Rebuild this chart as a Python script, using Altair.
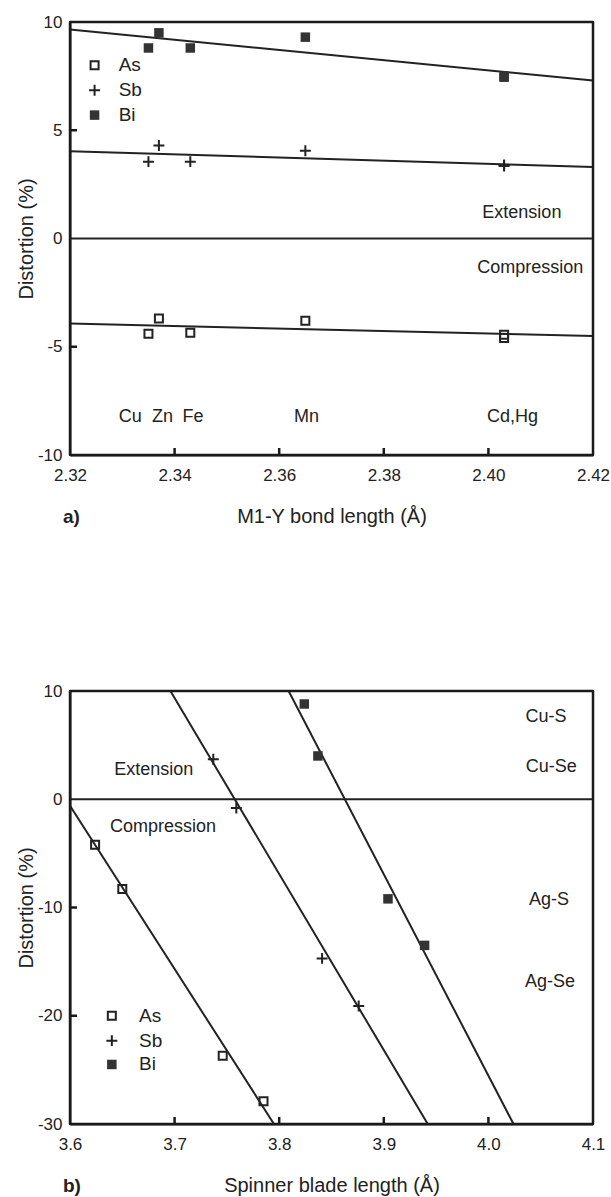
import altair as alt
import pandas as pd

# ---------------- Panel a data ----------------
bond_x = [2.335, 2.337, 2.343, 2.365, 2.403, 2.403]
as_a = [-4.4, -3.7, -4.35, -3.8, -4.45, -4.6]
sb_a = [3.55, 4.3, 3.55, 4.05, 3.35, 3.4]
bi_a = [8.8, 9.5, 8.8, 9.3, 7.45, 7.5]
fit_a_x = [2.32, 2.42]
fit_as_a = [-3.93, -4.5]
fit_sb_a = [4.03, 3.3]
fit_bi_a = [9.65, 7.3]
metal_labels = ["Cu", "Zn", "Fe", "Mn", "Cd,Hg"]
metal_label_x = [2.3315, 2.3377, 2.3435, 2.3652, 2.4046]
metal_label_y = -8.25
ext_a = ("Extension", 2.4064, 1.2)
comp_a = ("Compression", 2.408, -1.35)
leg_a_x, leg_a_tx = 2.3247, 2.3293
leg_a_y = [8.0, 6.85, 5.7]
xticks_a = [2.32, 2.34, 2.36, 2.38, 2.40, 2.42]
yticks_a = [10, 5, 0, -5, -10]
inner_xticks_a = [2.34, 2.36, 2.38, 2.40]
inner_yticks_a = [5, -5]

# ---------------- Panel b data ----------------
as_b_x = [3.624, 3.650, 3.746, 3.785]
as_b_y = [-4.2, -8.3, -23.7, -27.9]
sb_b_x = [3.737, 3.759, 3.841, 3.876]
sb_b_y = [3.7, -0.8, -14.7, -19.1]
bi_b_x = [3.824, 3.837, 3.904, 3.939]
bi_b_y = [8.8, 4.0, -9.2, -13.5]
fit_as_b_x = [3.6, 3.795]
fit_as_b_y = [-0.6, -30]
fit_sb_b_x = [3.696, 3.942]
fit_sb_b_y = [10, -30]
fit_bi_b_x = [3.809, 4.024]
fit_bi_b_y = [10, -30]
pair_labels = ["Cu-S", "Cu-Se", "Ag-S", "Ag-Se"]
pair_label_x = [4.055, 4.06, 4.058, 4.059]
pair_label_y = [7.6, 3.0, -9.3, -16.9]
ext_b = ("Extension", 3.68, 2.7)
comp_b = ("Compression", 3.689, -2.6)
leg_b_x, leg_b_tx = 3.64, 3.666
leg_b_y = [-20.0, -22.3, -24.5]
xticks_b = [3.6, 3.7, 3.8, 3.9, 4.0, 4.1]
yticks_b = [10, 0, -10, -20, -30]
inner_xticks_b = [3.7, 3.8, 3.9, 4.0]
inner_yticks_b = [-10, -20]

legend_names = ["As", "Sb", "Bi"]

FONT = "Liberation Sans"
INK = "#222222"
PLUS = "M-1,0L1,0M0,-1L0,1"
W = 523
H = 433
TICK_PX = 7
HYPHEN = "replace(datum.label, '\u2212', '-')"
AXSTYLE = dict(labelFont=FONT, titleFont=FONT, labelFontSize=17, titleFontSize=20,
               labelColor=INK, titleColor=INK, titleFontWeight="normal",
               ticks=False, grid=False, labelFlush=False,
               domain=True, domainColor=INK, domainWidth=2)


def build_panel(xdom, ydom, xvals, yvals, xfmt, xtitle, tag,
                fits, as_xy, sb_xy, bi_xy, texts, legend, inner_x, inner_y):
    xs = alt.Scale(domain=xdom, nice=False, zero=False)
    ys = alt.Scale(domain=ydom, nice=False, zero=False)
    xax = alt.Axis(values=xvals, format=xfmt, title=xtitle,
                   labelPadding=12, titlePadding=23, **AXSTYLE)
    yax = alt.Axis(values=yvals, title="Distortion (%)", labelExpr=HYPHEN,
                   labelPadding=8, titlePadding=1, **AXSTYLE)

    def X():
        return alt.X("x:Q", scale=xs, axis=xax)

    def Y():
        return alt.Y("y:Q", scale=ys, axis=yax)

    x0, x1 = xdom
    y0, y1 = ydom
    dx = (x1 - x0) * TICK_PX / W
    dy = (y1 - y0) * TICK_PX / H

    fitseg = []
    boxseg = []

    def add(lst, g, xa, ya, xb, yb):
        lst.append({"x": xa, "y": ya, "g": g, "o": 0})
        lst.append({"x": xb, "y": yb, "g": g, "o": 1})

    add(boxseg, "top", x0, y1, x1, y1)
    add(boxseg, "bottom", x0, y0, x1, y0)
    add(boxseg, "left", x0, y0, x0, y1)
    add(boxseg, "right", x1, y0, x1, y1)
    for i, t in enumerate(inner_x):
        add(boxseg, f"tx{i}", t, y0, t, y0 + dy)
    for i, t in enumerate(inner_y):
        add(boxseg, f"ty{i}", x0, t, x0 + dx, t)
    add(fitseg, "zero", x0, 0, x1, 0)
    for name, (fx, fy) in fits.items():
        add(fitseg, "fit" + name, fx[0], fy[0], fx[1], fy[1])

    layers = [alt.Chart(pd.DataFrame(fitseg)).mark_line(
        color=INK, strokeWidth=2
    ).encode(x=X(), y=Y(), detail="g:N", order="o:Q")]

    def pts(xv, yv, kind):
        df = pd.DataFrame({"x": xv, "y": yv})
        if kind == "As":
            m = alt.Chart(df).mark_point(shape="square", filled=False, size=64,
                                         strokeWidth=2, color=INK, opacity=1)
        elif kind == "Sb":
            m = alt.Chart(df).mark_point(shape=PLUS, filled=False, size=120,
                                         strokeWidth=2, color=INK, opacity=1)
        else:
            m = alt.Chart(df).mark_point(shape="square", filled=True, size=90,
                                         color="#333333", opacity=1)
        return m.encode(x=X(), y=Y())

    layers.append(pts(*as_xy, "As"))
    layers.append(pts(*sb_xy, "Sb"))
    layers.append(pts(*bi_xy, "Bi"))

    lx, ltx, ly = legend
    for name, yy in zip(legend_names, ly):
        layers.append(pts([lx], [yy], name))
    leg_txt = alt.Chart(pd.DataFrame({"x": [ltx] * 3, "y": ly, "t": legend_names})).mark_text(
        align="left", baseline="middle", font=FONT, fontSize=19, color=INK
    ).encode(x=X(), y=Y(), text="t:N")
    layers.append(leg_txt)

    tdf = pd.DataFrame(texts, columns=["t", "x", "y"])
    ann = alt.Chart(tdf).mark_text(
        align="center", baseline="middle", font=FONT, fontSize=18, color=INK
    ).encode(x=X(), y=Y(), text="t:N")
    layers.append(ann)

    tagc = alt.Chart(pd.DataFrame({"t": [tag]})).mark_text(
        align="left", baseline="middle", font=FONT, fontSize=19,
        fontWeight="bold", color=INK
    ).encode(x=alt.value(-7), y=alt.value(H + 62), text="t:N")
    layers.append(tagc)

    # frame and inner ticks drawn last, on top
    layers.append(alt.Chart(pd.DataFrame(boxseg)).mark_line(
        color="#1a1a1a", strokeWidth=2.5
    ).encode(x=X(), y=Y(), detail="g:N", order="o:Q"))

    return alt.layer(*layers).properties(width=W, height=H)


texts_a = [(t, x, metal_label_y) for t, x in zip(metal_labels, metal_label_x)]
texts_a += [ext_a, comp_a]
panel_a = build_panel(
    [2.32, 2.42], [-10, 10], xticks_a, yticks_a, ".2f",
    "M1-Y bond length (Å)", "a)",
    {"As": (fit_a_x, fit_as_a), "Sb": (fit_a_x, fit_sb_a), "Bi": (fit_a_x, fit_bi_a)},
    (bond_x, as_a), (bond_x, sb_a), (bond_x, bi_a),
    texts_a, (leg_a_x, leg_a_tx, leg_a_y), inner_xticks_a, inner_yticks_a)

texts_b = [(t, x, y) for t, x, y in zip(pair_labels, pair_label_x, pair_label_y)]
texts_b += [ext_b, comp_b]
panel_b = build_panel(
    [3.6, 4.1], [-30, 10], xticks_b, yticks_b, ".1f",
    "Spinner blade length (Å)", "b)",
    {"As": (fit_as_b_x, fit_as_b_y), "Sb": (fit_sb_b_x, fit_sb_b_y),
     "Bi": (fit_bi_b_x, fit_bi_b_y)},
    (as_b_x, as_b_y), (sb_b_x, sb_b_y), (bi_b_x, bi_b_y),
    texts_b, (leg_b_x, leg_b_tx, leg_b_y), inner_xticks_b, inner_yticks_b)

chart = alt.vconcat(panel_a, panel_b, spacing=153).properties(
    padding={"top": 12, "left": 15, "right": 0, "bottom": 3},
).configure_view(
    stroke="#1a1a1a", strokeWidth=2
)

chart.save("out.html", embed_options={"renderer": "svg", "actions": False})
